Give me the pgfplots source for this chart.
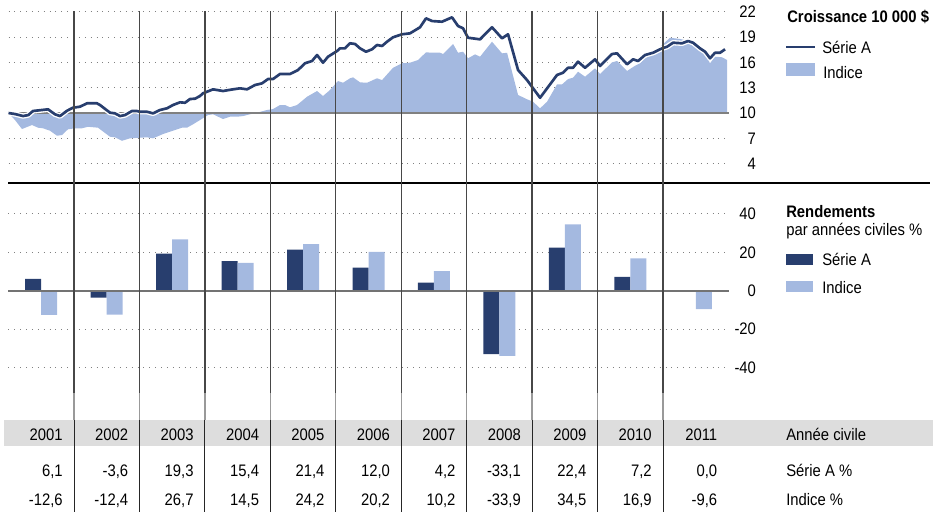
\documentclass[border=0pt]{standalone}
\usepackage{fontspec}
\setmainfont{Liberation Sans}[FakeStretch=0.89]
\usepackage{pgfplots}
\usepackage{pgfplotstable}
\pgfplotsset{compat=1.18}
\definecolor{navy}{RGB}{40,62,110}
\definecolor{lightb}{RGB}{164,185,224}
\definecolor{band}{RGB}{221,221,221}

\pgfplotstableread{
t v
2001.000 10.00
2001.099 9.88
2001.222 9.64
2001.303 9.76
2001.374 10.24
2001.604 10.44
2001.710 9.85
2001.787 9.64
2001.894 10.27
2001.985 10.63
2002.092 10.75
2002.199 11.15
2002.352 11.15
2002.398 10.95
2002.551 10.04
2002.627 9.96
2002.704 9.64
2002.780 9.76
2002.887 10.24
2002.963 10.24
2003.009 10.15
2003.116 10.15
2003.208 9.96
2003.315 10.36
2003.422 10.56
2003.513 10.95
2003.620 11.27
2003.697 11.22
2003.773 11.66
2003.850 11.70
2003.926 12.02
2003.972 12.34
2004.125 12.81
2004.277 12.61
2004.430 12.81
2004.537 12.93
2004.644 12.81
2004.766 13.32
2004.873 13.52
2004.965 14.03
2005.041 14.03
2005.148 14.63
2005.301 14.63
2005.423 15.10
2005.530 15.90
2005.637 16.17
2005.714 16.88
2005.805 15.97
2005.882 16.68
2006.019 17.35
2006.065 17.67
2006.141 17.67
2006.218 18.27
2006.294 18.19
2006.371 17.67
2006.462 17.27
2006.554 17.56
2006.630 18.07
2006.707 17.95
2006.783 18.46
2006.875 18.98
2007.012 19.34
2007.134 19.45
2007.287 20.17
2007.379 21.23
2007.471 20.91
2007.623 20.83
2007.776 21.35
2007.868 20.32
2007.944 20.05
2008.021 18.93
2008.204 18.74
2008.387 20.17
2008.540 18.86
2008.632 19.34
2008.785 15.10
2008.922 13.91
2009.121 11.81
2009.380 14.51
2009.472 14.78
2009.549 15.37
2009.625 15.37
2009.701 16.09
2009.808 15.37
2009.961 16.37
2010.038 15.58
2010.221 17.00
2010.297 17.08
2010.450 15.78
2010.542 16.37
2010.618 16.17
2010.725 16.88
2010.847 17.15
2010.985 17.67
2011.061 17.86
2011.153 18.34
2011.290 18.27
2011.382 18.54
2011.458 18.34
2011.565 17.67
2011.642 17.27
2011.718 16.49
2011.794 17.15
2011.871 17.15
2011.947 17.56
}\serieA

\pgfplotstableread{
t v
2001.000 10.00
2001.099 9.17
2001.206 8.10
2001.359 8.58
2001.451 8.26
2001.527 8.19
2001.634 7.90
2001.741 7.31
2001.817 7.39
2001.909 8.07
2002.016 8.19
2002.123 8.19
2002.215 8.37
2002.367 8.26
2002.551 7.19
2002.627 7.12
2002.734 6.71
2002.856 7.00
2003.009 7.07
2003.116 7.12
2003.208 7.00
2003.361 7.51
2003.513 7.90
2003.651 8.26
2003.727 8.26
2003.819 8.66
2003.926 9.17
2004.048 9.76
2004.125 9.85
2004.277 9.29
2004.384 9.56
2004.491 9.56
2004.583 9.64
2004.690 9.85
2004.797 10.04
2004.950 10.36
2005.041 10.47
2005.148 10.95
2005.225 10.95
2005.301 10.68
2005.408 10.95
2005.561 11.93
2005.714 12.61
2005.805 12.02
2005.912 12.73
2006.034 13.80
2006.111 13.59
2006.218 14.12
2006.264 14.23
2006.371 13.64
2006.477 13.59
2006.630 14.12
2006.707 13.91
2006.875 15.37
2007.012 15.90
2007.134 15.97
2007.257 16.29
2007.379 17.20
2007.471 17.15
2007.593 17.15
2007.639 17.00
2007.792 18.19
2007.868 17.15
2007.944 17.27
2008.021 16.49
2008.128 16.96
2008.204 16.68
2008.387 18.46
2008.540 17.08
2008.617 17.15
2008.785 12.14
2008.922 11.63
2009.014 11.34
2009.121 10.56
2009.228 11.34
2009.380 13.40
2009.457 13.40
2009.549 14.03
2009.625 14.19
2009.701 14.90
2009.808 14.31
2009.961 15.30
2010.038 14.63
2010.221 16.01
2010.297 16.17
2010.450 14.98
2010.572 15.61
2010.649 15.90
2010.725 16.49
2010.847 17.08
2010.985 18.07
2011.107 18.93
2011.260 18.78
2011.367 18.58
2011.458 18.27
2011.596 17.56
2011.718 15.90
2011.794 16.68
2011.902 16.61
2011.978 16.29
2011.978 10.00
}\indice

\pgfplotstableread{
t a b
2001.5 6.1 -12.6
2002.5 -3.6 -12.4
2003.5 19.3 26.7
2004.5 15.4 14.5
2005.5 21.4 24.2
2006.5 12.0 20.2
2007.5 4.2 10.2
2008.5 -33.1 -33.9
2009.5 22.4 34.5
2010.5 7.2 16.9
2011.5 0.0 -9.6
}\bars

\begin{document}
\begin{tikzpicture}[x=0.75pt,y=-0.75pt,
  every node/.style={font=\fontsize{12.5}{15}\selectfont, inner sep=0pt}]
\useasboundingbox (0,0) rectangle (949,512);
\fill[band] (4,420) rectangle (933,446);

\pgfplotsset{
  common/.style={
    anchor=south west, scale only axis, width=540pt,
    xmin=2001, xmax=2012,
    axis line style={draw=none}, xtick=\empty,
    yticklabel pos=right, major tick length=0pt,
    ymajorgrids,
    grid style={black!50, line width=0.7pt, dash pattern=on 0.7pt off 3.7pt},
    yticklabel style={anchor=east, xshift=20.8pt, inner sep=0pt,
      font=\fontsize{12.5}{15}\selectfont},
    clip=false
  }
}

\begin{axis}[common, at={(6.375pt,-137.25pt)}, height=129pt,
  ymin=1.7, ymax=22.1,
  ytick={4,7,10,13,16,19,22}, yticklabels={4,7,10,13,16,19,22}]
\addplot[fill=lightb, draw=none] table[x=t,y=v]{\indice};
\draw[black!50, line width=1.2pt] (axis cs:2001,10) -- (axis cs:2012,10);
\addplot[white, line width=4pt, line join=round] table[x=t,y=v]{\serieA};
\addplot[navy, line width=2pt, line join=round] table[x=t,y=v]{\serieA};
\end{axis}

\begin{axis}[common, at={(6.375pt,-294.75pt)}, height=157.5pt,
  ymin=-53.3, ymax=56.1,
  ytick={-40,-20,0,20,40}, yticklabels={-40,-20,0,20,40}]
\addplot[ybar, bar width=12pt, bar shift=-6pt, fill=navy, draw=none] table[x=t,y=a]{\bars};
\addplot[ybar, bar width=12pt, bar shift=6pt, fill=lightb, draw=none] table[x=t,y=b]{\bars};
\draw[black!55, line width=1.4pt] (axis cs:2001,0) -- (axis cs:2012,0);
\end{axis}

% separator
\draw[black, line width=0.8pt] (8,183) -- (930,183);
% vertical year lines
\foreach \i in {1,...,10} {
  \pgfmathsetmacro\xx{8.5+65.45*\i}
  \draw[black!72, line width=1pt] (\xx,11) -- (\xx,393);
  \draw[black!40, line width=1pt] (\xx,393) -- (\xx,420);
  \draw[black!85, line width=0.6pt] (\xx,420) -- (\xx,512);
}

% table
\foreach \y [count=\i from 1] in {2001,...,2011} {
  \pgfmathsetmacro\xx{8.5+65.45*\i-11}
  \node[anchor=base east] at (\xx,440) {\y};
}
\foreach \v [count=\i from 1] in {{6,1},{-3,6},{19,3},{15,4},{21,4},{12,0},{4,2},{-33,1},{22,4},{7,2},{0,0}} {
  \pgfmathsetmacro\xx{8.5+65.45*\i-11}
  \node[anchor=base east] at (\xx,476) {\v};
}
\foreach \v [count=\i from 1] in {{-12,6},{-12,4},{26,7},{14,5},{24,2},{20,2},{10,2},{-33,9},{34,5},{16,9},{-9,6}} {
  \pgfmathsetmacro\xx{8.5+65.45*\i-11}
  \node[anchor=base east] at (\xx,505) {\v};
}
\node[anchor=base west] at (786,440) {Année civile};
\node[anchor=base west] at (786,476) {Série A \%};
\node[anchor=base west] at (786,505) {Indice \%};

% top legend
\node[anchor=base west] at (787,22) {\textbf{Croissance 10 000 \$}};
\draw[navy, line width=2.2pt] (786,47) -- (815,47);
\node[anchor=base west] at (822,53) {Série A};
\fill[lightb] (786,63) rectangle (815,76);
\node[anchor=base west] at (823,78) {Indice};

% bottom legend
\node[anchor=base west] at (786,217) {\textbf{Rendements}};
\node[anchor=base west] at (786,235) {par années civiles \%};
\fill[navy] (786,254) rectangle (813,265);
\node[anchor=base west] at (822,265) {Série A};
\fill[lightb] (786,281) rectangle (813,292);
\node[anchor=base west] at (822,293) {Indice};
\end{tikzpicture}
\end{document}
